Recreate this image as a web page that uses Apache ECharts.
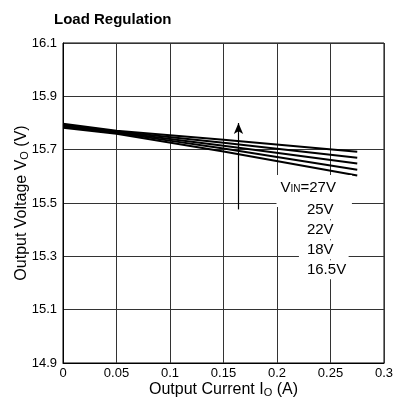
<!DOCTYPE html>
<html lang="en">
<head>
    <meta charset="UTF-8">
    <title>Load Regulation</title>
    <script src="https://cdn.jsdelivr.net/npm/echarts@6/dist/echarts.min.js"></script>
</head>
<body style="margin:0">
    <div id="main" style="width: 396px;height:406px;"></div>
</body>
<script>
    // 数据
    var currents = [0, 0.05, 0.15, 0.275];
    var vin27 = [15.797, 15.771, 15.737, 15.692];
    var vin25 = [15.793, 15.768, 15.726, 15.670];
    var vin22 = [15.790, 15.765, 15.715, 15.648];
    var vin18 = [15.786, 15.763, 15.704, 15.625];
    var vin165 = [15.782, 15.760, 15.693, 15.603];
    var seriesNames = ['27V', '25V', '22V', '18V', '16.5V'];
    var seriesValues = [vin27, vin25, vin22, vin18, vin165];
    var xTicks = ['0', '0.05', '0.1', '0.15', '0.2', '0.25', '0.3'];

    var font = 'Liberation Sans, Arial, sans-serif';

    var myChart = echarts.init(document.getElementById('main'));

    function pairs(vals) {
        return currents.map(function (c, i) { return [c, vals[i]]; });
    }

    // 标签位置 (数据坐标)
    var labelSpots = [
        [0.1995, 15.545, '{v|V}{s|IN}{v|=27V}', [5, 16, 12, 4]],
        [0.2205, 15.475, '{v|25V}', [2, 15, 2, 8]],
        [0.2205, 15.400, '{v|22V}', [2, 15, 2, 8]],
        [0.2205, 15.325, '{v|18V}', [2, 15, 2, 8]],
        [0.2205, 15.250, '{v|16.5V}', [2, 6, 2, 8]]
    ];

    var series = seriesValues.map(function (vals, i) {
        return {
            name: seriesNames[i],
            type: 'line',
            data: pairs(vals),
            showSymbol: false,
            symbol: 'none',
            silent: true,
            lineStyle: { color: '#000', width: 2 },
            z: 3
        };
    });

    // 箭头
    series[0].markLine = {
        silent: true,
        symbol: ['none', 'arrow'],
        symbolSize: [7, 11],
        label: { show: false },
        lineStyle: { color: '#000', width: 1.2, type: 'solid' },
        data: [[{ coord: [0.164, 15.476] }, { coord: [0.164, 15.80] }]]
    };
    series[0].markPoint = {
        silent: true,
        symbol: 'circle',
        symbolSize: 0,
        data: labelSpots.map(function (s) {
            return {
                coord: [s[0], s[1]],
                label: {
                    show: true,
                    position: 'right',
                    distance: 0,
                    formatter: s[2],
                    backgroundColor: '#fff',
                    padding: s[3],
                    rich: {
                        v: { fontSize: 15, fontFamily: font, color: '#000' },
                        s: { fontSize: 10, fontFamily: font, color: '#000', verticalAlign: 'bottom', padding: [0, 0, 1, 0] }
                    }
                }
            };
        })
    };

    var option = {
        animation: false,
        backgroundColor: '#fff',
        title: {
            text: 'Load Regulation',
            left: 49,
            top: 7,
            textStyle: { fontFamily: font, fontSize: 15, fontWeight: 'bold', color: '#000' }
        },
        grid: {
            left: 63, right: 12, top: 43, bottom: 43,
            outerBoundsMode: 'none',
            containLabel: false,
            show: true, borderColor: '#000', borderWidth: 1
        },
        xAxis: {
            type: 'value',
            min: 0, max: 0.3, interval: 0.05,
            name: '{t|Output Current I}{s|O}{t| (A)}',
            nameLocation: 'middle',
            nameMoveOverlap: false,
            nameGap: 19,
            nameTextStyle: {
                rich: {
                    t: { fontSize: 16, fontFamily: font, color: '#000' },
                    s: { fontSize: 11, fontFamily: font, color: '#000', verticalAlign: 'bottom' }
                }
            },
            axisLine: { lineStyle: { color: '#000' } },
            axisTick: { show: false },
            axisLabel: {
                color: '#000', fontSize: 13, fontFamily: font, margin: 4,
                formatter: function (v) { return xTicks[Math.round(v / 0.05)]; }
            },
            splitLine: { show: true, lineStyle: { color: '#333', width: 1 } }
        },
        yAxis: {
            type: 'value',
            min: 14.9, max: 16.1, interval: 0.2,
            name: '{t|Output Voltage V}{s|O}{t| (V)}',
            nameLocation: 'middle',
            nameMoveOverlap: false,
            nameGap: 33,
            nameTextStyle: {
                rich: {
                    t: { fontSize: 16, fontFamily: font, color: '#000' },
                    s: { fontSize: 11, fontFamily: font, color: '#000', verticalAlign: 'bottom' }
                }
            },
            axisLine: { show: true, lineStyle: { color: '#000' } },
            axisTick: { show: false },
            axisLabel: {
                color: '#000', fontSize: 13, fontFamily: font, margin: 6,
                formatter: function (v) { return v.toFixed(1); }
            },
            splitLine: { show: true, lineStyle: { color: '#333', width: 1 } }
        },
        series: series
    };

    myChart.setOption(option);
</script>
</html>
